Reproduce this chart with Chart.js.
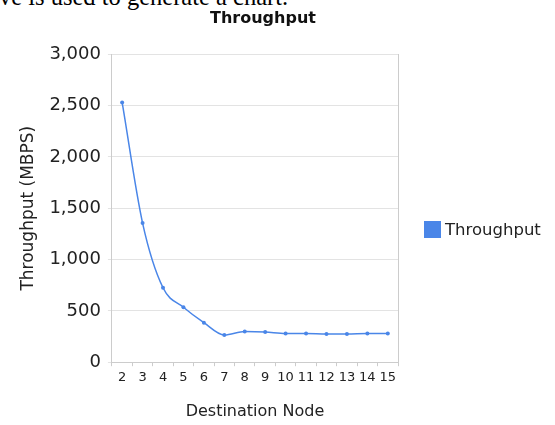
<!DOCTYPE html>
<html>
<head>
<meta charset="utf-8">
<script src="https://cdn.jsdelivr.net/npm/chart.js@4"></script>
<style>
  body { margin: 0; background: #fff; width: 555px; height: 425px; overflow: hidden; position: relative; }
  #doc { position: absolute; left: -1px; top: -16px; font-family: "Liberation Serif", serif; font-size: 24.5px; line-height: 25px; color: #000; white-space: nowrap; }
  canvas { position: absolute; left: 0; top: 0; }
  #legenda { position: absolute; left: 424px; top: 221px; font-family: 'DejaVu Sans', Verdana, sans-serif; font-size: 16.5px; color: #222; line-height: 18px; white-space: nowrap; }
  #legenda span { display: inline-block; width: 17px; height: 17px; background: #4a86e8; vertical-align: top; margin-right: 4px; }
</style>
</head>
<body>
<div id="doc">ve is used to generate a chart.</div>
<canvas id="grafico" width="555" height="425"></canvas>
<div id="legenda"><span></span>Throughput</div>
<script>
// dados
const nodes = ["2", "3", "4", "5", "6", "7", "8", "9", "10", "11", "12", "13", "14", "15"];
const throughput = [2530, 1355, 725, 535, 385, 265, 300, 295, 280, 280, 275, 275, 280, 280];
const yTicks = [0, 500, 1000, 1500, 2000, 2500, 3000];

const azul = "#4a86e8";
const fonte = "'DejaVu Sans', Verdana, sans-serif";

const ctx = document.getElementById("grafico").getContext("2d");

new Chart(ctx, {
  type: "line",
  data: {
    labels: nodes,
    datasets: [{
      label: "Throughput",
      data: throughput,
      borderColor: azul,
      backgroundColor: azul,
      borderWidth: 1.5,
      pointRadius: 2,
      pointBackgroundColor: azul,
      pointBorderWidth: 0,
      cubicInterpolationMode: "monotone",
      fill: false
    }]
  },
  options: {
    responsive: false,
    animation: false,
    layout: { padding: { left: 18, right: 47, top: 0, bottom: 4 } },
    plugins: {
      title: {
        display: true,
        text: "Throughput",
        color: "#111",
        font: { family: fonte, size: 16, weight: "bold" },
        padding: { top: 9, bottom: 26 }
      },
      legend: { display: false },
      tooltip: { enabled: false }
    },
    scales: {
      x: {
        offset: true,
        title: {
          display: true,
          text: "Destination Node",
          color: "#222",
          font: { family: fonte, size: 16 },
          padding: { top: 12, bottom: 0 }
        },
        ticks: { color: "#222", font: { family: fonte, size: 13 }, padding: 4, maxRotation: 0, autoSkip: false },
        grid: { drawOnChartArea: false, offset: true, tickLength: 4, color: "#ccc" },
        border: { color: "#ccc" }
      },
      y: {
        min: 0,
        max: 3000,
        afterBuildTicks: axis => { axis.ticks = yTicks.map(v => ({ value: v })); },
        title: {
          display: true,
          text: "Throughput (MBPS)",
          color: "#222",
          font: { family: fonte, size: 17 },
          padding: { top: 0, bottom: 4 }
        },
        ticks: {
          color: "#222",
          font: { family: fonte, size: 18 },
          padding: 7,
          callback: v => v.toLocaleString("en-US")
        },
        grid: { color: "#e3e3e3", tickLength: 4 },
        border: { color: "#ccc" }
      },
      y2: {
        position: "right",
        min: 0,
        max: 3000,
        ticks: { display: false },
        grid: { drawOnChartArea: false, drawTicks: false },
        border: { color: "#ccc" },
        afterFit: axis => { axis.width = 110; }
      }
    }
  }
});
</script>
</body>
</html>
